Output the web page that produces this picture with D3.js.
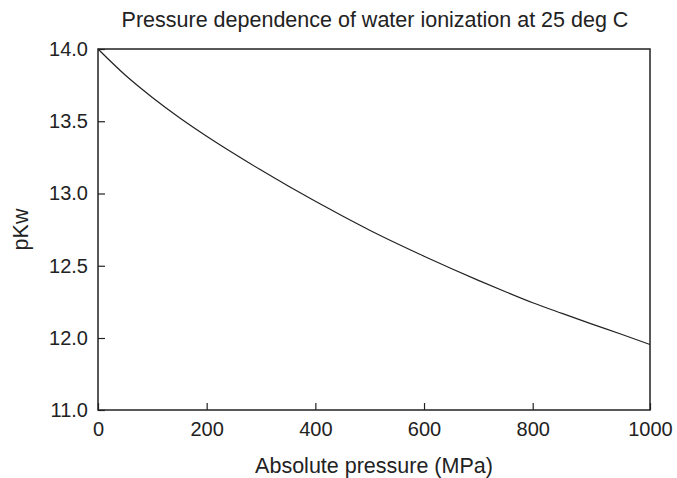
<!DOCTYPE html>
<html>
<head>
<meta charset="utf-8">
<script src="https://d3js.org/d3.v7.min.js"></script>
<style>
  body { margin: 0; background: #fff; }
  text { font-family: "Liberation Sans", Arial, Helvetica, sans-serif; fill: #222; }
</style>
</head>
<body>
<script>
// data
var pressure = [0, 50, 100, 150, 200, 250, 300, 350, 400, 450, 500,
                550, 600, 650, 700, 750, 800, 850, 900, 950, 1000];
var pKw = [14.00, 13.82, 13.665, 13.525, 13.397, 13.277, 13.162, 13.052, 12.946, 12.844, 12.746,
           12.654, 12.566, 12.481, 12.399, 12.320, 12.244, 12.170, 12.098, 12.028, 11.91];
var xTicks = [0, 200, 400, 600, 800, 1000];
var yTicks = [11.0, 12.0, 12.5, 13.0, 13.5, 14.0];

var titleText = "Pressure dependence of water ionization at 25 deg C";
var xLabel = "Absolute pressure (MPa)";
var yLabel = "pKw";

// SVG area
var svgWidth = 677;
var svgHeight = 478;

var margin = { top: 49, right: 27, bottom: 68, left: 98 };
var chartWidth = svgWidth - margin.left - margin.right;
var chartHeight = svgHeight - margin.top - margin.bottom;

var svg = d3.select("body")
  .append("svg")
  .attr("width", svgWidth)
  .attr("height", svgHeight);

var chartGroup = svg.append("g")
  .attr("transform", `translate(${margin.left}, ${margin.top})`);

// the original figure uses uneven axis segments (broken at the ends)
var xScale = d3.scaleLinear()
  .domain([0, 800, 1000])
  .range([0, chartWidth * 0.7875, chartWidth]);

var yScale = d3.scaleLinear()
  .domain([11, 12, 14])
  .range([chartHeight, chartHeight - 72, 0]);

// axes, ticks pointing inward
var xAxis = d3.axisBottom(xScale)
  .tickValues(xTicks)
  .tickSizeInner(-7)
  .tickSizeOuter(0)
  .tickPadding(12)
  .tickFormat(d3.format("d"));

var yAxis = d3.axisLeft(yScale)
  .tickValues(yTicks)
  .tickSizeInner(-7)
  .tickSizeOuter(0)
  .tickPadding(10)
  .tickFormat(d3.format(".1f"));

var gx = chartGroup.append("g")
  .attr("transform", `translate(0, ${chartHeight})`)
  .call(xAxis);

var gy = chartGroup.append("g")
  .call(yAxis);

[gx, gy].forEach(function(g) {
  g.select(".domain").remove();
  g.selectAll(".tick line").attr("stroke", "#222").attr("stroke-width", 1.2);
  g.selectAll(".tick text")
    .attr("font-size", 20)
    .attr("fill", "#222")
    .style("font-family", '"Liberation Sans", Arial, sans-serif');
});

// frame
chartGroup.append("rect")
  .attr("x", 0)
  .attr("y", 0)
  .attr("width", chartWidth)
  .attr("height", chartHeight)
  .attr("fill", "none")
  .attr("stroke", "#222")
  .attr("stroke-width", 1.5);

// curve
var line = d3.line()
  .x(function(d, i) { return xScale(pressure[i]); })
  .y(function(d) { return yScale(d); })
  .curve(d3.curveMonotoneX);

chartGroup.append("path")
  .datum(pKw)
  .attr("d", line)
  .attr("fill", "none")
  .attr("stroke", "#222")
  .attr("stroke-width", 1.2);

// title and labels
svg.append("text")
  .attr("x", margin.left + chartWidth / 2 + 1)
  .attr("y", 27)
  .attr("text-anchor", "middle")
  .attr("font-size", 21.5)
  .text(titleText);

svg.append("text")
  .attr("x", margin.left + chartWidth / 2)
  .attr("y", 473)
  .attr("text-anchor", "middle")
  .attr("font-size", 21.5)
  .text(xLabel);

svg.append("text")
  .attr("transform", `translate(28, ${margin.top + chartHeight / 2}) rotate(-90)`)
  .attr("text-anchor", "middle")
  .attr("font-size", 21.5)
  .text(yLabel);
</script>
</body>
</html>
